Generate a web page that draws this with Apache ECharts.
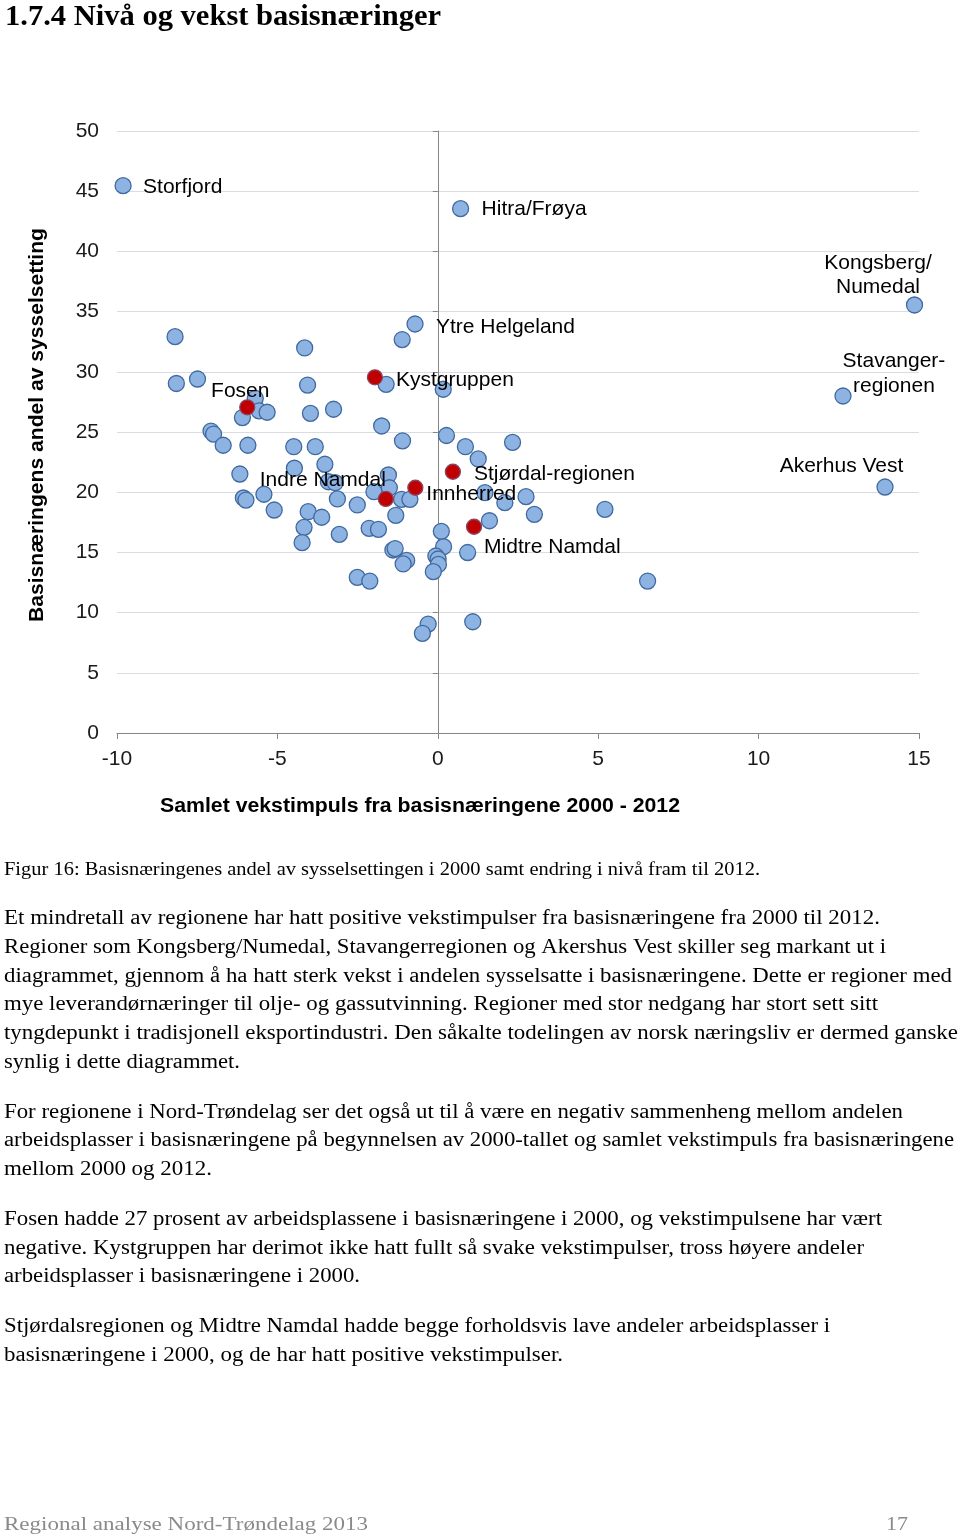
<!DOCTYPE html>
<html><head><meta charset="utf-8">
<script src="https://cdn.jsdelivr.net/npm/echarts@6/dist/echarts.min.js"></script>
<style>html,body{margin:0;padding:0;background:#fff}#c{width:960px;height:1536px}</style>
</head><body><div id="c"></div>
<script>
// ---------- DATA ----------
const xTicks = [-10, -5, 0, 5, 10, 15];
const yTicks = [0, 5, 10, 15, 20, 25, 30, 35, 40, 45, 50];

// All regions (blue markers)
const blueX = [-9.81, 0.71, -0.71, -1.11, -8.19, -4.15, 14.86, -8.15, -7.49, -4.06,
  -1.61, 0.17, 12.63, -5.69, -5.57, -5.32, -6.09, -3.97, -3.25, -7.07,
  -6.99, -6.69, -5.92, -4.49, -3.82, -1.75, -1.10, 0.27, 0.86, 1.26,
  2.33, -6.17, -4.47, -3.52, -3.41, -3.20, -1.54, -1.51, -1.99, -1.13,
  -0.87, -6.06, -5.98, -5.42, -5.10, -4.04, -3.62, -4.17, -4.23, -3.13,
  -3.07, -2.51, -1.31, -2.14, -1.85, -1.40, -1.33, -0.97, -1.08, -2.51,
  -2.12, 0.11, 0.18, -0.06, 0.01, 0.02, -0.14, 0.93, 1.47, 2.09,
  2.75, 3.01, 5.21, 1.61, 6.54, 1.09, -0.30, -0.48, 13.94];
const blueY = [45.46, 43.55, 33.97, 32.68, 32.92, 31.98, 35.55, 29.03, 29.40, 28.90,
  28.96, 28.55, 27.99, 27.80, 26.76, 26.64, 26.20, 26.55, 26.89, 25.08,
  24.83, 23.90, 23.90, 23.78, 23.78, 25.50, 24.27, 24.71, 23.78, 22.76,
  24.14, 21.51, 21.99, 22.32, 20.87, 20.79, 21.43, 20.37, 20.04, 19.41,
  19.41, 19.52, 19.35, 19.83, 18.52, 18.38, 17.92, 17.08, 15.81, 19.44,
  16.50, 18.94, 18.08, 17.00, 16.92, 15.20, 15.32, 14.33, 14.04, 12.93,
  12.62, 16.75, 15.47, 14.70, 14.45, 14.00, 13.40, 14.99, 19.96, 19.13,
  19.63, 18.16, 18.58, 17.63, 12.62, 9.24, 9.05, 8.28, 20.43];
const blueNames = ['Storfjord', 'Hitra/Frøya', 'Ytre Helgeland', '', '', '', 'Kongsberg/\nNumedal', '', '', '',
  '', '', 'Stavanger-\nregionen', '', '', '', '', '', '', '',
  '', '', '', '', '', '', '', '', '', '',
  '', '', '', '', '', '', '', '', '', '',
  '', '', '', '', '', '', '', '', '', '',
  '', '', '', '', '', '', '', '', '', '',
  '', '', '', '', '', '', '', '', '', '',
  '', '', '', '', '', '', '', '', 'Akerhus Vest'];

// Nord-Trøndelag regions (red markers)
const redX = [-1.96, -5.94, -1.62, -0.70, 0.47, 1.13];
const redY = [29.54, 27.05, 19.44, 20.37, 21.70, 17.13];
const redNames = ['Kystgruppen', 'Fosen', 'Indre Namdal', 'Innherred', 'Stjørdal-regionen', 'Midtre Namdal'];

const xAxisName = 'Samlet vekstimpuls fra basisnæringene 2000 - 2012';
const yAxisName = 'Basisnæringens andel av sysselsetting';

const titleText = '1.7.4 Nivå og vekst basisnæringer';
const captionText = 'Figur 16: Basisnæringenes andel av sysselsettingen i 2000 samt endring i nivå fram til 2012.';
const para1 = [
  'Et mindretall av regionene har hatt positive vekstimpulser fra basisnæringene fra 2000 til 2012.',
  'Regioner som Kongsberg/Numedal, Stavangerregionen og Akershus Vest skiller seg markant ut i',
  'diagrammet, gjennom å ha hatt sterk vekst i andelen sysselsatte i basisnæringene. Dette er regioner med',
  'mye leverandørnæringer til olje- og gassutvinning. Regioner med stor nedgang har stort sett sitt',
  'tyngdepunkt i tradisjonell eksportindustri. Den såkalte todelingen av norsk næringsliv er dermed ganske',
  'synlig i dette diagrammet.'];
const para2 = [
  'For regionene i Nord-Trøndelag ser det også ut til å være en negativ sammenheng mellom andelen',
  'arbeidsplasser i basisnæringene på begynnelsen av 2000-tallet og samlet vekstimpuls fra basisnæringene',
  'mellom 2000 og 2012.'];
const para3 = [
  'Fosen hadde 27 prosent av arbeidsplassene i basisnæringene i 2000, og vekstimpulsene har vært',
  'negative. Kystgruppen har derimot ikke hatt fullt så svake vekstimpulser, tross høyere andeler',
  'arbeidsplasser i basisnæringene i 2000.'];
const para4 = [
  'Stjørdalsregionen og Midtre Namdal hadde begge forholdsvis lave andeler arbeidsplasser i',
  'basisnæringene i 2000, og de har hatt positive vekstimpulser.'];
const footerLeft = 'Regional analyse Nord-Trøndelag 2013';
const footerRight = '17';

// ---------- LAYOUT / STYLE ----------
const SANS = '"Liberation Sans", Arial, sans-serif';
const SERIF = '"Liberation Serif", "Times New Roman", serif';
const labelLayout = {
  'Storfjord': { align: 'left', dx: 20, dy: 2 },
  'Hitra/Frøya': { align: 'left', dx: 21, dy: 1 },
  'Ytre Helgeland': { align: 'left', dx: 21, dy: 3 },
  'Kongsberg/\nNumedal': { align: 'center', dx: -36.5, dy: -30, lh: 24 },
  'Stavanger-\nregionen': { align: 'center', dx: 51, dy: -22.5, lh: 25 },
  'Akerhus Vest': { align: 'center', dx: -43.5, dy: -21 },
  'Kystgruppen': { align: 'left', dx: 21, dy: 3 },
  'Fosen': { align: 'center', dx: -7, dy: -16 },
  'Indre Namdal': { align: 'right', dx: 0, dy: -19 },
  'Innherred': { align: 'left', dx: 11, dy: 6 },
  'Stjørdal-regionen': { align: 'left', dx: 21, dy: 2 },
  'Midtre Namdal': { align: 'left', dx: 10, dy: 20 }
};
function labelFor(name) {
  const L = labelLayout[name];
  if (!L) return { show: false };
  return {
    show: true, position: 'inside', formatter: function () { return name; },
    align: L.align, verticalAlign: 'middle', offset: [L.dx, L.dy],
    fontFamily: SANS, fontSize: 21, color: '#000', lineHeight: L.lh || 24
  };
}

const mctx = document.createElement('canvas').getContext('2d');
function fitScale(str, font, w) { mctx.font = font; return w / mctx.measureText(str).width; }
function textEl(str, font, x, y, w, opts) {
  opts = opts || {};
  const s = w ? fitScale(str, font, w) : 1;
  return {
    type: 'text', x: x, y: y, scaleX: s, rotation: opts.rotation || 0, silent: true,
    style: {
      text: str, font: font, fill: opts.fill || '#000',
      align: opts.align || 'left', textAlign: opts.align || 'left',
      verticalAlign: 'middle', textVerticalAlign: 'middle'
    }
  };
}

const BODY = '20px ' + SERIF;
const graphics = [];
graphics.push(textEl(titleText, 'bold 30px ' + SERIF, 5, 17, 436));
graphics.push(textEl(captionText, '18px ' + SERIF, 4, 870, 756));
const blocks = [
  { lines: para1, y: [919, 948, 977, 1005, 1034, 1063], w: [876, 882, 948, 874, 954, 236] },
  { lines: para2, y: [1113, 1141, 1170], w: [899, 950, 208] },
  { lines: para3, y: [1220, 1249, 1277], w: [878, 860, 356] },
  { lines: para4, y: [1327, 1356], w: [826, 559] }
];
blocks.forEach(b => b.lines.forEach((ln, i) => graphics.push(textEl(ln, BODY, 4, b.y[i], b.w[i]))));
graphics.push(textEl(footerLeft, '19px ' + SERIF, 4, 1525, 364, { fill: '#8a8a8a' }));
graphics.push(textEl(footerRight, '19px ' + SERIF, 908, 1525, 22, { fill: '#8a8a8a', align: 'right' }));
// axis titles
graphics.push(textEl(xAxisName, 'bold 20px ' + SANS, 420, 806, 520, { align: 'center' }));
graphics.push(textEl(yAxisName, 'bold 20px ' + SANS, 37, 425, 394, { align: 'center', rotation: Math.PI / 2 }));

const blueData = blueX.map((x, i) => ({ value: [x, blueY[i]], label: labelFor(blueNames[i]) }));
const redData = redX.map((x, i) => ({ value: [x, redY[i]], label: labelFor(redNames[i]) }));

const axisGray = '#868686';
const chart = echarts.init(document.getElementById('c'), null, { renderer: 'canvas' });
chart.setOption({
  animation: false,
  backgroundColor: '#fff',
  grid: { left: 117, right: 41, top: 131, bottom: 803 },
  xAxis: {
    type: 'value', min: xTicks[0], max: xTicks[xTicks.length - 1], interval: xTicks[1] - xTicks[0],
    axisLine: { show: true, onZero: false, lineStyle: { color: axisGray, width: 1 } },
    axisTick: { show: true, length: 6, lineStyle: { color: axisGray } },
    axisLabel: { margin: 16, fontFamily: SANS, fontSize: 21, color: '#1a1a1a' },
    splitLine: { show: false }
  },
  yAxis: [{
    type: 'value', min: yTicks[0], max: yTicks[yTicks.length - 1], interval: yTicks[1] - yTicks[0], position: 'left',
    axisLine: { show: false, onZero: false }, axisTick: { show: false },
    axisLabel: { margin: 18, fontFamily: SANS, fontSize: 21, color: '#1a1a1a', padding: [4, 0, 0, 0] },
    splitLine: { show: true, lineStyle: { color: '#d9dde3', width: 1 } }
  }, {
    type: 'value', min: yTicks[0], max: yTicks[yTicks.length - 1], interval: yTicks[1] - yTicks[0], position: 'left',
    axisLine: { show: true, onZero: true, onZeroAxisIndex: 0, lineStyle: { color: axisGray, width: 1 } },
    axisTick: { show: true, inside: false, length: 5, lineStyle: { color: axisGray } },
    axisLabel: { show: false }, splitLine: { show: false }
  }],
  series: [{
    type: 'scatter', yAxisIndex: 0, data: blueData, symbolSize: 16,
    itemStyle: { color: '#8db3e2', borderColor: '#41699f', borderWidth: 1.3, opacity: 1 },
    label: { show: false }, emphasis: { disabled: true }, z: 3
  }, {
    type: 'scatter', yAxisIndex: 0, data: redData, symbolSize: 15,
    itemStyle: { color: '#c00000', borderColor: '#8a4560', borderWidth: 1.3, opacity: 1 },
    label: { show: false }, emphasis: { disabled: true }, z: 4
  }],
  graphic: { elements: graphics }
});
</script>
</body></html>
